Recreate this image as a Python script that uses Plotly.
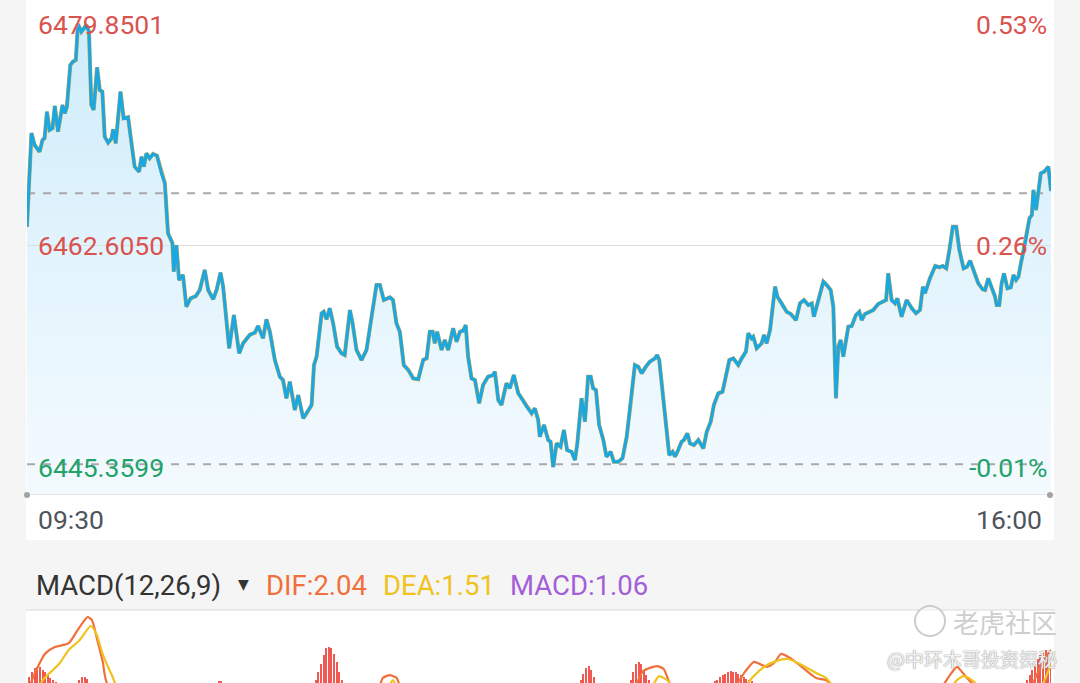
import plotly.graph_objects as go

W, H = 1080, 683

BG = "#f5f5f5"
PANEL = "#ffffff"
BLUE = "#19a8e2"
EDGE = "#bca45a"
DASH = "#a9a9a9"
RULE = "#dedede"
RED = "#d9534f"
GREEN = "#23a26a"
TIME = "#50545b"
DARK = "#333333"
DIF_C = "#f0703c"
DEA_C = "#efc21d"
MACD_C = "#a35fd8"
BAR_C = "#ee5a52"
FONT = "Roboto, Arial, sans-serif"

# intraday price, minutes since 09:30
minute = [
    0, 1.7, 2.9, 4.8, 5.9, 6.7, 7.6, 8.6, 9.7, 10.6,
    11.8, 13.5, 14.4, 15.2, 16.5, 17.5, 18.6, 19.4, 20.7, 21.6,
    22.6, 23.6, 24.5, 25.4, 26.7, 27.7, 28.7, 29.6, 30.9, 32.2,
    32.8, 33.8, 35.6, 36.8, 38.5, 39.8, 41.0, 42.7, 43.6, 44.5,
    45.5, 46.7, 48.0, 49.5, 51.2, 52.5, 53.7, 55.4, 55.9, 56.9,
    57.9, 59.4, 60.7, 62.3, 64.3, 65.8, 67.7, 69.0, 70.9, 72.2,
    73.7, 74.7, 77.0, 78.8, 80.8, 82.3, 84.8, 86.8, 88.0, 89.9,
    91.2, 92.5, 94.4, 96.3, 97.5, 98.8, 100.1, 102.0, 103.3, 105.2,
    106.5, 108.4, 109.3, 110.3, 112.2, 113.0, 114.1, 115.3, 116.6, 118.1,
    119.8, 121.0, 123.0, 124.0, 125.5, 127.4, 129.3, 131.2, 133.1, 134.4,
    135.9, 138.2, 139.4, 140.7, 142.0, 143.5, 145.2, 147.1, 149.0, 150.9,
    152.2, 153.4, 154.5, 155.3, 156.2, 157.9, 159.1, 160.4, 162.3, 163.6,
    164.9, 166.1, 167.1, 168.0, 169.3, 170.6, 172.2, 173.7, 175.6, 177.5,
    178.2, 179.5, 180.7, 182.6, 183.9, 185.4, 187.1, 188.4, 190.3, 192.2,
    193.4, 194.7, 195.3, 196.9, 198.5, 199.4, 200.4, 201.7, 203.2, 204.5,
    205.7, 207.4, 208.7, 209.6, 211.2, 212.5, 213.7, 214.7, 215.6, 216.7,
    217.9, 219.5, 220.7, 222.3, 223.5, 225.2, 226.8, 228.4, 229.9, 231.5,
    232.8, 234.1, 235.7, 237.2, 239.2, 240.0, 240.8, 242.3, 243.6, 244.6,
    245.9, 246.8, 248.0, 249.3, 250.2, 251.5, 252.5, 254.0, 255.7, 257.6,
    258.9, 260.4, 261.6, 263.3, 264.9, 266.2, 267.5, 269.0, 270.9, 272.2,
    273.8, 274.7, 276.0, 276.6, 277.9, 279.8, 280.7, 281.7, 283.0, 284.9,
    285.8, 287.4, 289.3, 290.9, 291.8, 292.9, 294.4, 295.9, 297.6, 298.9,
    299.7, 301.4, 303.3, 304.6, 306.1, 307.1, 308.1, 309.0, 309.9, 310.9,
    312.8, 314.1, 315.7, 317.0, 317.9, 319.1, 321.1, 322.3, 324.2, 326.1,
    327.2, 328.0, 329.3, 330.6, 331.5, 333.1, 335.0, 337.0, 338.6, 340.1,
    341.2, 342.0, 343.9, 345.9, 347.5, 348.8, 350.1, 351.3, 352.6, 353.9,
    355.1, 356.7, 358.0, 359.2, 360.8, 362.3, 364.0, 364.9, 366.1, 367.4,
    368.7, 369.3, 370.3, 371.2, 372.1, 373.4, 374.7, 375.7, 376.7, 377.6,
    378.5, 379.7, 380.8, 381.8, 382.7, 383.3, 384.3, 385.2, 386.1, 387.4,
    389.0, 390,
]
price = [
    6464.07, 6471.36, 6470.43, 6469.91, 6470.82, 6470.97, 6473.02, 6471.60, 6471.73, 6473.47,
    6471.47, 6473.54, 6472.90, 6473.41, 6476.66, 6476.92, 6477.05, 6479.85, 6479.25, 6479.52,
    6479.77, 6479.25, 6473.54, 6473.16, 6476.48, 6474.71, 6474.58, 6471.08, 6470.61, 6470.95,
    6471.65, 6470.56, 6474.58, 6472.51, 6472.59, 6470.56, 6468.74, 6468.35, 6469.52, 6468.74,
    6469.78, 6469.39, 6469.73, 6469.60, 6468.23, 6467.45, 6463.56, 6462.78, 6460.57, 6462.64,
    6459.92, 6460.31, 6457.84, 6458.49, 6458.67, 6459.14, 6460.70, 6459.14, 6458.42, 6459.14,
    6460.49, 6459.40, 6454.60, 6457.19, 6454.21, 6454.99, 6455.64, 6455.82, 6456.34, 6455.38,
    6456.86, 6455.89, 6453.69, 6452.39, 6452.13, 6450.71, 6452.00, 6449.80, 6450.96, 6449.15,
    6449.54, 6450.19, 6453.30, 6453.95, 6457.33, 6457.45, 6456.86, 6457.72, 6456.55, 6454.73,
    6454.21, 6454.08, 6457.58, 6456.55, 6454.47, 6453.69, 6454.47, 6457.06, 6459.53, 6459.53,
    6458.36, 6458.57, 6458.36, 6456.55, 6455.89, 6453.30, 6452.91, 6452.26, 6452.19, 6453.69,
    6453.82, 6455.89, 6455.89, 6454.99, 6455.89, 6454.47, 6455.25, 6454.47, 6456.16, 6455.12,
    6455.89, 6455.97, 6456.41, 6453.95, 6452.26, 6452.13, 6450.32, 6451.74, 6452.39, 6452.52,
    6452.78, 6450.58, 6450.19, 6451.88, 6451.49, 6452.52, 6451.10, 6450.71, 6450.05, 6449.54,
    6449.93, 6449.02, 6447.72, 6448.63, 6447.46, 6447.33, 6445.36, 6447.20, 6446.94, 6448.24,
    6446.68, 6446.55, 6445.90, 6447.20, 6450.71, 6448.89, 6452.39, 6452.39, 6451.49, 6451.35,
    6448.63, 6447.46, 6446.16, 6446.55, 6445.77, 6445.77, 6446.04, 6447.72, 6450.32, 6453.30,
    6453.17, 6452.65, 6453.17, 6453.56, 6453.82, 6454.08, 6453.69, 6450.58, 6448.24, 6446.29,
    6446.55, 6446.16, 6446.68, 6447.33, 6447.46, 6447.98, 6447.20, 6447.07, 6447.46, 6446.81,
    6448.11, 6448.89, 6450.19, 6451.10, 6451.22, 6452.39, 6453.69, 6453.82, 6453.30, 6453.82,
    6454.34, 6455.77, 6455.38, 6455.50, 6454.60, 6454.99, 6455.64, 6454.99, 6456.03, 6459.40,
    6458.62, 6458.10, 6457.45, 6457.27, 6457.06, 6456.80, 6458.10, 6458.36, 6457.97, 6458.10,
    6457.06, 6458.36, 6459.79, 6459.53, 6459.14, 6457.84, 6450.71, 6454.73, 6455.25, 6453.95,
    6456.28, 6456.34, 6457.19, 6457.45, 6456.80, 6457.27, 6457.45, 6457.58, 6458.05, 6458.23,
    6458.36, 6460.44, 6458.36, 6458.10, 6458.49, 6457.06, 6458.36, 6457.72, 6457.33, 6457.58,
    6459.40, 6458.88, 6460.05, 6461.01, 6460.91, 6461.01, 6460.83, 6462.25, 6464.07, 6464.07,
    6462.25, 6460.83, 6460.95, 6461.42, 6460.44, 6459.66, 6459.19, 6459.14, 6460.05, 6459.40,
    6458.62, 6457.97, 6457.97, 6459.66, 6460.44, 6459.27, 6459.35, 6460.31, 6459.92, 6460.18,
    6461.22, 6462.25, 6463.55, 6464.72, 6464.98, 6466.93, 6465.37, 6466.93, 6468.23, 6468.35,
    6468.74, 6466.85,
]
assert len(minute) == len(price)

ref_upper = 6466.67      # upper dashed reference
ref_lower = 6445.57      # previous close (dashed)
mid_level = 6462.605     # solid middle rule

axis_levels = [6479.8501, 6462.6050, 6445.3599]
axis_labels = ["6479.8501", "6462.6050", "6445.3599"]
pct_labels = ["0.53%", "0.26%", "-0.01%"]
label_colors = [RED, RED, GREEN]
time_labels = ["09:30", "16:00"]

# MACD pane (only the top of it is on screen)
dif_minute = [1.0, 2.2, 6.8, 10.6, 15.9, 19.3, 22.0, 23.1, 24.7, 26.6, 28.8, 31.5,
              133.6, 135.5, 138.2, 140.8, 142.7,
              230.8, 234.6, 239.9, 242.5, 246.0,
              268.9, 273.4, 276.9, 281.8, 284.9, 287.1, 290.6, 295.1, 300.5, 304.3, 307.7,
              347.7, 351.5, 354.2, 356.1, 358.0, 362.2,
              381.6, 385.8, 388.5, 390]
dif_value = [0.60, 0.98, 1.89, 2.15, 2.30, 2.80, 3.18, 3.29, 3.18, 2.49, 1.62, 0.60,
             0.60, 0.98, 1.09, 0.98, 0.60,
             0.60, 1.24, 1.43, 1.32, 0.60,
             0.60, 1.21, 1.59, 1.40, 1.59, 1.89, 1.74, 1.40, 0.98, 0.90, 0.60,
             0.60, 1.09, 1.40, 1.21, 0.98, 0.60,
             0.60, 1.36, 1.85, 2.04]
dea_minute = [4.1, 6.7, 9.4, 12.5, 15.9, 20.1, 24.3, 26.6, 28.8, 32.3, 34.9,
              137.0, 139.4, 141.2,
              237.2, 240.7, 244.1, 246.0,
              272.7, 276.1, 280.7, 285.3, 289.8, 294.4, 300.5, 304.3, 308.1,
              351.5, 354.2, 356.8, 359.9, 363.3,
              385.8, 388.5, 390]
dea_value = [0.60, 0.98, 1.24, 1.55, 2.04, 2.42, 2.95, 2.61, 1.89, 1.09, 0.60,
             0.60, 0.90, 0.60,
             0.60, 1.05, 0.87, 0.60,
             0.60, 0.98, 1.40, 1.62, 1.70, 1.51, 1.17, 0.98, 0.60,
             0.60, 0.90, 1.05, 0.90, 0.60,
             0.60, 1.13, 1.51]
hist_minute = [1, 2, 3, 4, 5, 6, 7, 8, 9, 10, 11,
               20, 21, 22, 23,
               73, 74,
               110, 111, 112, 113, 114, 115, 116, 117, 118, 119, 120,
               211, 212, 213, 214, 215, 216,
               230, 231, 232, 233, 234, 235, 236, 237,
               262, 263, 264, 265, 266, 267, 268, 269, 270, 271, 272, 273, 274, 275, 276,
               381, 382, 383, 384, 385, 386, 387, 388, 389, 390]
hist_value = [1.00, 1.20, 1.35, 1.40, 1.38, 1.30, 1.20, 1.08, 0.98, 0.90, 0.84,
              0.90, 1.00, 1.02, 0.95,
              0.85, 0.88,
              0.90, 1.20, 1.50, 1.85, 2.10, 2.15, 2.10, 1.90, 1.60, 1.20, 0.90,
              0.90, 1.15, 1.35, 1.43, 1.30, 1.00,
              0.90, 1.20, 1.50, 1.59, 1.50, 1.30, 1.10, 0.90,
              0.85, 0.92, 1.00, 1.08, 1.15, 1.20, 1.24, 1.22, 1.20, 1.15, 1.10, 1.02, 0.95, 0.90, 0.85,
              0.90, 1.10, 1.30, 1.50, 1.70, 1.85, 2.00, 2.04, 1.90, 1.70]
macd_header = ["MACD(12,26,9)", "DIF:2.04", "DEA:1.51", "MACD:1.06"]


def px_x(x):
    return x / W


def px_y(y):
    return 1 - y / H


# price pane: pixel rows 0..495 ; MACD pane: 610..683
PRICE_TOP, PRICE_BOT = 6481.72, 6443.18
MACD_BOT, MACD_TOP = 0.79, 0.79 + 73 / 26.4
X0, X1 = px_x(27), px_x(1051)

fig = go.Figure()

fig.add_trace(go.Scatter(
    x=minute, y=price, mode="lines", line=dict(width=0),
    fill="tozeroy",
    fillgradient=dict(type="vertical", start=PRICE_BOT, stop=PRICE_TOP,
                      colorscale=[[0, "rgba(238,248,254,0.7)"], [1, "rgba(198,233,250,0.9)"]]),
    hoverinfo="skip", showlegend=False,
))
for lvl, color, dash, width in [(mid_level, RULE, "solid", 1),
                                (ref_upper, DASH, "8px,8px", 2),
                                (ref_lower, DASH, "8px,8px", 2)]:
    fig.add_trace(go.Scatter(
        x=[minute[0], minute[-1]], y=[lvl, lvl], mode="lines",
        line=dict(color=color, width=width, dash=dash),
        hoverinfo="skip", showlegend=False,
    ))
fig.add_trace(go.Scatter(x=minute, y=price, mode="lines",
                         line=dict(color=EDGE, width=4.0), showlegend=False))
fig.add_trace(go.Scatter(x=minute, y=price, mode="lines",
                         line=dict(color=BLUE, width=3.0), showlegend=False))

fig.add_trace(go.Bar(x=hist_minute, y=hist_value, width=0.5,
                     marker=dict(color=BAR_C, line=dict(width=0)),
                     xaxis="x2", yaxis="y2", showlegend=False))
fig.add_trace(go.Scatter(x=dif_minute, y=dif_value, mode="lines",
                         line=dict(color=DIF_C, width=2.2, shape="spline", smoothing=0.6),
                         xaxis="x2", yaxis="y2", showlegend=False))
fig.add_trace(go.Scatter(x=dea_minute, y=dea_value, mode="lines",
                         line=dict(color=DEA_C, width=2.2, shape="spline", smoothing=0.6),
                         xaxis="x2", yaxis="y2", showlegend=False))

hidden = dict(visible=False, showgrid=False, zeroline=False, fixedrange=True)
fig.update_layout(
    width=W, height=H,
    margin=dict(l=0, r=0, t=0, b=0),
    paper_bgcolor=BG, plot_bgcolor=PANEL,
    font=dict(family=FONT, color=DARK),
    bargap=0,
    xaxis=dict(domain=[X0, X1], range=[0, 390], **hidden),
    yaxis=dict(domain=[px_y(495), 1], range=[PRICE_BOT, PRICE_TOP], **hidden),
    xaxis2=dict(domain=[X0, X1], range=[0, 390], anchor="y2", **hidden),
    yaxis2=dict(domain=[0, px_y(610)], range=[MACD_BOT, MACD_TOP], anchor="x2", **hidden),
)

shapes = [
    dict(type="rect", xref="paper", yref="paper", x0=px_x(26), x1=px_x(1054),
         y0=px_y(540), y1=1, fillcolor=PANEL, line=dict(width=0), layer="below"),
    dict(type="rect", xref="paper", yref="paper", x0=px_x(26), x1=px_x(1054),
         y0=0, y1=px_y(611), fillcolor=PANEL, line=dict(width=0), layer="below"),
    dict(type="line", xref="paper", yref="paper", x0=px_x(26), x1=px_x(1054),
         y0=px_y(610), y1=px_y(610), line=dict(color="#d9d9d9", width=1.2)),
    dict(type="line", xref="paper", yref="y", x0=px_x(26), x1=px_x(1054),
         y0=PRICE_BOT, y1=PRICE_BOT, line=dict(color="#dcdcdc", width=1.5)),
    dict(type="circle", xref="paper", yref="paper",
         x0=px_x(24), x1=px_x(30), y0=px_y(498), y1=px_y(492),
         fillcolor="#a3a3a3", line=dict(width=0)),
    dict(type="circle", xref="paper", yref="paper",
         x0=px_x(1047), x1=px_x(1053), y0=px_y(498), y1=px_y(492),
         fillcolor="#a3a3a3", line=dict(width=0)),
    # watermark logo ring
    dict(type="circle", xref="paper", yref="paper",
         x0=px_x(915), x1=px_x(945), y0=px_y(636), y1=px_y(606),
         fillcolor="rgba(255,255,255,0.5)", line=dict(color="#cccccc", width=2)),
]
fig.update_layout(shapes=shapes)

ann = []
for lvl, lab, pct, col in zip(axis_levels, axis_labels, pct_labels, label_colors):
    ann.append(dict(x=px_x(36), y=lvl, xref="paper", yref="y", text=lab,
                    xanchor="left", yanchor="middle", showarrow=False,
                    font=dict(size=26.5, color=col, family=FONT)))
    ann.append(dict(x=px_x(1049), y=lvl, xref="paper", yref="y", text=pct,
                    xanchor="right", yanchor="middle", showarrow=False,
                    font=dict(size=26.5, color=col, family=FONT)))
ann.append(dict(x=px_x(36), y=px_y(519), xref="paper", yref="paper", text=time_labels[0],
                xanchor="left", yanchor="middle", showarrow=False,
                font=dict(size=26.5, color=TIME, family=FONT)))
ann.append(dict(x=px_x(1044), y=px_y(519), xref="paper", yref="paper", text=time_labels[1],
                xanchor="right", yanchor="middle", showarrow=False,
                font=dict(size=26.5, color=TIME, family=FONT)))

for text, left, col in zip(macd_header, [34, 264, 381, 508], [DARK, DIF_C, DEA_C, MACD_C]):
    ann.append(dict(x=px_x(left), y=px_y(585), xref="paper", yref="paper", text=text,
                    xanchor="left", yanchor="middle", showarrow=False,
                    font=dict(size=27.5, color=col, family=FONT)))
ann.append(dict(x=px_x(243), y=px_y(584), xref="paper", yref="paper", text="▼",
                xanchor="center", yanchor="middle", showarrow=False,
                font=dict(size=14, color=DARK, family="DejaVu Sans")))

ann.append(dict(x=px_x(1059), y=px_y(621), xref="paper", yref="paper", text="老虎社区",
                xanchor="right", yanchor="middle", showarrow=False,
                font=dict(size=26, color="rgba(200,200,200,0.9)", family="Noto Sans CJK SC")))
ann.append(dict(x=px_x(1059), y=px_y(658), xref="paper", yref="paper", text="@中环木哥投资探秘",
                xanchor="right", yanchor="middle", showarrow=False,
                font=dict(size=19, color="rgba(255,255,255,0.9)", family="Noto Sans CJK SC",
                          shadow="0 0 1.5px #8f8f8f, 0 0 1px #8f8f8f")))
fig.update_layout(annotations=ann)

fig.write_html("out.html", config={"displayModeBar": False},
               post_script="document.body.style.margin='0';")
